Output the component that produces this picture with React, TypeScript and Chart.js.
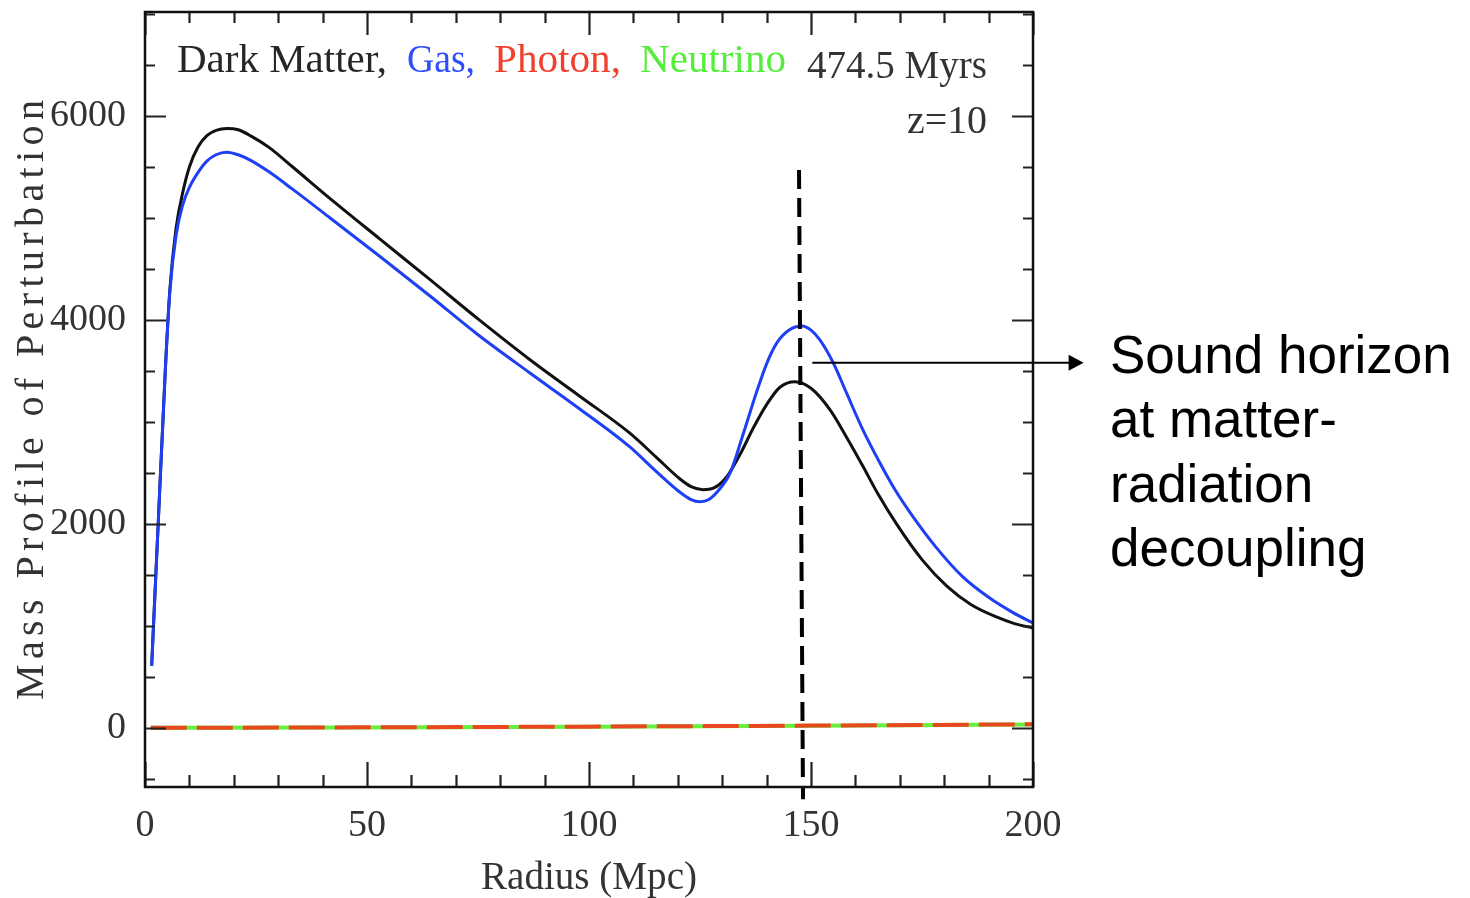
import React, { useEffect, useRef } from 'react';
import { Chart, registerables } from 'chart.js';

Chart.register(...registerables);

// ---------- data ----------
const darkMatterRadius = [1.5, 3, 4.6, 5.6, 7, 8.5, 10, 12, 14, 16, 18.5, 21, 24, 28, 33, 41.7, 53, 64.2, 75, 86.7, 98, 109.2, 115, 120.5, 123, 125.7, 128, 131, 134, 137, 140, 143, 146.4, 150, 154.3, 158, 161.7, 165, 169.4, 175, 180.6, 186, 191.9, 196, 200];
const darkMatterMass = [610, 2030, 3530, 4300, 4900, 5250, 5500, 5700, 5810, 5860, 5878, 5865, 5800, 5690, 5510, 5190, 4790, 4395, 4010, 3610, 3250, 2890, 2660, 2440, 2365, 2335, 2350, 2460, 2680, 2940, 3170, 3340, 3395, 3330, 3118, 2850, 2565, 2300, 1990, 1650, 1390, 1210, 1085, 1020, 980];

const gasRadius = [1.5, 3, 4.6, 5.6, 7, 8.5, 10, 12, 14, 16, 18.4, 21, 24, 28, 33, 41.7, 53, 64.2, 75, 86.7, 98, 109.2, 115, 120.5, 123, 125, 127, 129, 131.8, 134.5, 137.8, 140, 142.3, 145, 148, 150, 152, 155, 158, 161.5, 165.5, 169, 173, 178, 184.2, 190, 195.5, 200];
const gasMass = [610, 2030, 3530, 4280, 4830, 5130, 5300, 5450, 5560, 5620, 5645, 5620, 5560, 5450, 5290, 5000, 4620, 4235, 3855, 3480, 3125, 2755, 2520, 2310, 2238, 2218, 2240, 2320, 2500, 2850, 3300, 3570, 3775, 3900, 3941, 3900, 3804, 3580, 3284, 2940, 2600, 2330, 2069, 1780, 1480, 1280, 1130, 1029];

const radiationRadius = [1.3, 50, 100, 150, 200];
const photonMass = [0, 5, 12, 22, 35];
const neutrinoMass = [0, 4, 11, 21, 33];

const soundHorizonRadius = [147.3, 148.2];
const soundHorizonMass = [5470, -700];

const xTickValues = [0, 50, 100, 150, 200];
const yTickValues = [0, 2000, 4000, 6000];

const arrowMass = 3580;
const arrowFromRadius = 150.3;
const arrowToRadius = 211.4;

const titleParts = [
  { text: 'Dark Matter,', color: '#262626', left: 177, right: 387, base: 72 },
  { text: 'Gas,', color: '#2d4dff', left: 407, right: 475, base: 72 },
  { text: 'Photon,', color: '#f2402e', left: 494, right: 621, base: 72 },
  { text: 'Neutrino', color: '#55ee3c', left: 640, right: 786, base: 72 },
  { text: '474.5 Myrs', color: '#333333', left: 807, right: 987, base: 78 },
  { text: 'z=10', color: '#333333', left: 907, right: 987, base: 133 },
];
const annotationLines = ['Sound horizon', 'at matter-', 'radiation', 'decoupling'];
const xTitle = 'Radius (Mpc)';
const yTitle = 'Mass Profile of Perturbation';

const pts = (xs: number[], ys: number[]) => xs.map((x, i) => ({ x, y: ys[i] }));

const SERIF = '"Liberation Serif", "Times New Roman", serif';

function drawFitted(ctx: CanvasRenderingContext2D, text: string, left: number, right: number, base: number, font: string, color: string) {
  ctx.save();
  ctx.font = font;
  ctx.fillStyle = color;
  ctx.textAlign = 'left';
  ctx.textBaseline = 'alphabetic';
  const w = ctx.measureText(text).width;
  ctx.translate(left, base);
  ctx.scale((right - left) / w, 1);
  ctx.fillText(text, 0, 0);
  ctx.restore();
}

const framePlugin = {
  id: 'frame',
  afterDraw(chart: any) {
    const { ctx, chartArea: a, scales } = chart;
    const xs = scales.x;
    const ys = scales.y;
    ctx.save();
    // inward ticks
    ctx.strokeStyle = '#222';
    ctx.lineWidth = 2.2;
    ctx.beginPath();
    for (let v = 0; v <= 200; v += 10) {
      const px = Math.round(xs.getPixelForValue(v)) + 0.5;
      const major = v % 50 === 0;
      ctx.moveTo(px, a.bottom);
      ctx.lineTo(px, a.bottom - (major ? 25 : 12));
      ctx.moveTo(px, a.top);
      ctx.lineTo(px, a.top + (major ? 23 : 11));
    }
    for (let v = -500; v <= 7000; v += 500) {
      const py = Math.round(ys.getPixelForValue(v)) + 0.5;
      const major = v % 2000 === 0;
      ctx.moveTo(a.left, py);
      ctx.lineTo(a.left + (major ? 21 : 10), py);
      ctx.moveTo(a.right, py);
      ctx.lineTo(a.right - (major ? 21 : 10), py);
    }
    ctx.stroke();
    // frame
    ctx.strokeStyle = '#111';
    ctx.lineWidth = 2.5;
    ctx.strokeRect(a.left, a.top, a.right - a.left, a.bottom - a.top);

    // title texts
    titleParts.forEach((p) => drawFitted(ctx, p.text, p.left, p.right, p.base, `40px ${SERIF}`, p.color));

    // x title
    drawFitted(ctx, xTitle, 481, 697, 889, `39px ${SERIF}`, '#333');

    // y title (rotated)
    ctx.save();
    ctx.translate(43, 700);
    ctx.rotate(-Math.PI / 2);
    ctx.font = `40px ${SERIF}`;
    ctx.fillStyle = '#333';
    ctx.textBaseline = 'alphabetic';
    const w0 = ctx.measureText(yTitle).width;
    const sp = (600 - w0) / (yTitle.length - 1);
    (ctx as any).letterSpacing = `${sp}px`;
    ctx.fillText(yTitle, 0, 0);
    ctx.restore();

    // arrow
    const ay = ys.getPixelForValue(arrowMass);
    const ax0 = xs.getPixelForValue(arrowFromRadius);
    const ax1 = xs.getPixelForValue(arrowToRadius);
    ctx.strokeStyle = '#000';
    ctx.fillStyle = '#000';
    ctx.lineWidth = 2;
    ctx.beginPath();
    ctx.moveTo(ax0, ay);
    ctx.lineTo(ax1 - 12, ay);
    ctx.stroke();
    ctx.beginPath();
    ctx.moveTo(ax1, ay);
    ctx.lineTo(ax1 - 15, ay - 8);
    ctx.lineTo(ax1 - 15, ay + 8);
    ctx.closePath();
    ctx.fill();

    // annotation text
    ctx.font = '53px "Liberation Sans", Arial, sans-serif';
    ctx.fillStyle = '#000';
    ctx.textAlign = 'left';
    ctx.textBaseline = 'alphabetic';
    const bases = [373, 437, 502, 566];
    annotationLines.forEach((t, i) => ctx.fillText(t, 1110, bases[i]));
    ctx.restore();
  },
};

export default function App() {
  const ref = useRef<HTMLCanvasElement | null>(null);
  useEffect(() => {
    if (!ref.current) return;
    const chart = new Chart(ref.current, {
      type: 'scatter',
      data: {
        datasets: [
          {
            label: 'Sound horizon',
            data: pts(soundHorizonRadius, soundHorizonMass),
            showLine: true,
            borderColor: '#000',
            borderWidth: 4,
            borderDash: [19, 9],
            pointRadius: 0,
            clip: false,
            order: 0,
          } as any,
          {
            label: 'Gas',
            data: pts(gasRadius, gasMass),
            showLine: true,
            borderColor: '#1f3ff5',
            borderWidth: 3,
            pointRadius: 0,
            cubicInterpolationMode: 'monotone',
            order: 1,
          },
          {
            label: 'Dark Matter',
            data: pts(darkMatterRadius, darkMatterMass),
            showLine: true,
            borderColor: '#111',
            borderWidth: 3,
            pointRadius: 0,
            cubicInterpolationMode: 'monotone',
            order: 2,
          },
          {
            label: 'Photon',
            data: pts(radiationRadius, photonMass),
            showLine: true,
            borderColor: '#e8471f',
            borderWidth: 4,
            borderDash: [36, 10],
            pointRadius: 0,
            order: 3,
          },
          {
            label: 'Neutrino',
            data: pts(radiationRadius, neutrinoMass),
            showLine: true,
            borderColor: '#66f03c',
            borderWidth: 4,
            pointRadius: 0,
            order: 4,
          },
        ],
      },
      options: {
        responsive: false,
        devicePixelRatio: 1,
        animation: false,
        layout: { padding: { left: 0, right: 437, top: 12, bottom: 0 } },
        plugins: { legend: { display: false }, tooltip: { enabled: false } },
        scales: {
          x: {
            type: 'linear',
            min: 0,
            max: 200,
            grid: { display: false, drawTicks: false },
            border: { display: false },
            afterBuildTicks: (s: any) => {
              s.ticks = xTickValues.map((v) => ({ value: v }));
            },
            afterFit: (s: any) => {
              s.height = 111;
              s.paddingLeft = 0;
              s.paddingRight = 0;
            },
            ticks: {
              autoSkip: false,
              maxRotation: 0,
              padding: 16,
              color: '#333',
              font: { family: SERIF, size: 38 },
              callback: (v: any) => String(v),
            },
          },
          y: {
            type: 'linear',
            min: -580,
            max: 7020,
            grid: { display: false, drawTicks: false },
            border: { display: false },
            afterBuildTicks: (s: any) => {
              s.ticks = yTickValues.map((v) => ({ value: v }));
            },
            afterFit: (s: any) => {
              s.width = 145;
              s.paddingTop = 0;
              s.paddingBottom = 0;
            },
            ticks: {
              autoSkip: false,
              padding: 19,
              color: '#333',
              font: { family: SERIF, size: 38 },
              callback: (v: any) => String(v),
            },
          },
        },
      } as any,
      plugins: [framePlugin],
    });
    return () => chart.destroy();
  }, []);
  return (
    <div style={{ position: 'absolute', left: 0, top: 0, width: 1470, height: 898, background: '#fff' }}>
      <canvas ref={ref} width={1470} height={898} style={{ display: 'block' }} />
    </div>
  );
}
